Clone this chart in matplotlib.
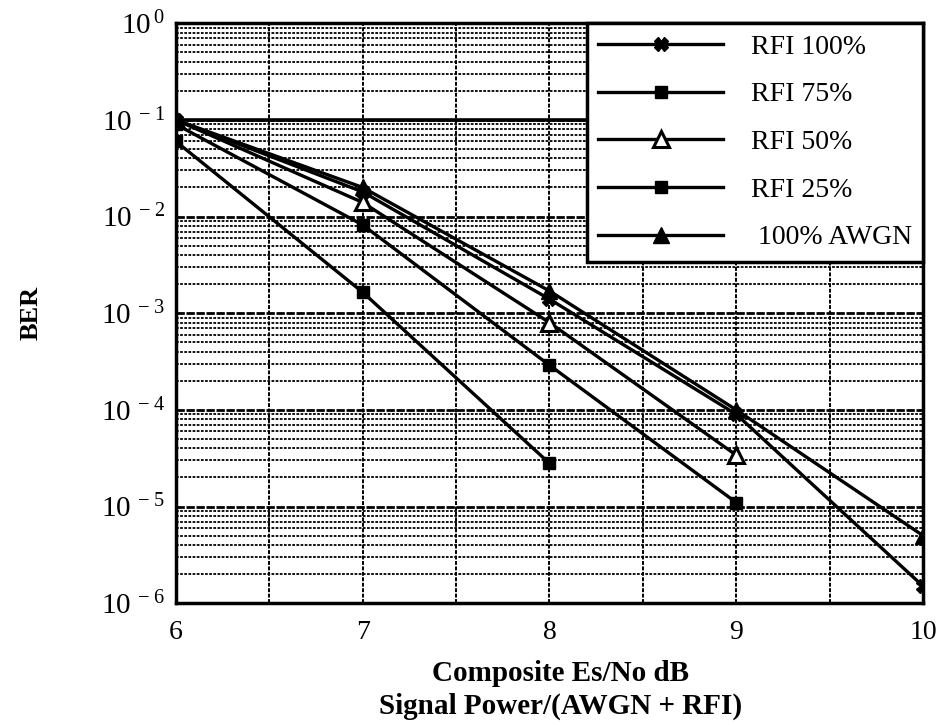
import matplotlib
matplotlib.use("Agg")
import matplotlib.pyplot as plt
from matplotlib.ticker import FixedLocator, LogLocator, NullFormatter

plt.rcParams["font.family"] = ["Liberation Serif", "DejaVu Serif"]
plt.rcParams["mathtext.fontset"] = "custom"
plt.rcParams["mathtext.rm"] = "Liberation Serif"

# Composite Es/No (dB)
esno = [6, 7, 8, 9, 10]

# BER curves
ber_rfi100 = [1.0e-1, 1.8e-2, 1.4e-3, 9.0e-5, 1.5e-6]
ber_rfi75 = [9.0e-2, 8.2e-3, 2.9e-4, 1.1e-5]
ber_rfi50 = [1.0e-1, 1.4e-2, 8.0e-4, 3.4e-5]
ber_rfi25 = [6.0e-2, 1.65e-3, 2.8e-5]
ber_awgn = [1.0e-1, 2.0e-2, 1.7e-3, 1.0e-4, 5.0e-6]

x_ticks = [6, 7, 8, 9, 10]
decades = [0, -1, -2, -3, -4, -5, -6]

fig = plt.figure(figsize=(9.4, 7.25), dpi=100)
ax = fig.add_axes([0.187, 0.168, 0.795, 0.800])

ax.set_yscale("log")
ax.set_xlim(6, 10)
ax.set_ylim(1e-6, 1)

# grid: dense minor lines inside each decade, heavier lines at each decade
ax.yaxis.set_minor_locator(LogLocator(base=10, subs=range(2, 10), numticks=20))
ax.yaxis.set_minor_formatter(NullFormatter())
ax.xaxis.set_minor_locator(FixedLocator([6.5, 7.5, 8.5, 9.5]))
ax.grid(True, which="minor", axis="y", color="black", linestyle=(0, (1.5, 0.8)), linewidth=1.3)
ax.grid(True, which="major", axis="y", color="black", linestyle=(0, (3, 0.6)), linewidth=2.0)
ax.grid(True, which="both", axis="x", color="black", linestyle=(0, (2, 0.8)), linewidth=1.4)
ax.axhline(1e-1, color="black", linewidth=2.6, zorder=1.5)

ax.plot(esno, ber_rfi100, color="black", linewidth=2.4, marker="X", markersize=10,
        label="RFI 100%", zorder=3)
ax.plot(esno[:4], ber_rfi75, color="black", linewidth=2.4, marker="s", markersize=8,
        label="RFI 75%", zorder=3)
ax.plot(esno[:4], ber_rfi50, color="black", linewidth=2.4, marker="^", markersize=11,
        markerfacecolor="white", markeredgewidth=2.2, label="RFI 50%", zorder=3)
ax.plot(esno[:3], ber_rfi25, color="black", linewidth=2.4, marker="s", markersize=8,
        label="RFI 25%", zorder=3)
ax.plot(esno, ber_awgn, color="black", linewidth=2.4, marker="^", markersize=11,
        label=" 100% AWGN", zorder=3)

ax.set_xticks(x_ticks)
ax.set_xticklabels([str(v) for v in x_ticks], fontsize=20)
ax.set_yticks([10.0 ** d for d in decades])
ax.set_yticklabels([r"$\mathregular{10^{\,%d}}$" % d for d in decades], fontsize=21)
ax.tick_params(axis="both", which="both", length=0)
ax.tick_params(axis="x", pad=12)
ax.tick_params(axis="y", pad=8)

for side in ax.spines.values():
    side.set_linewidth(2.5)
    side.set_color("black")

ax.set_ylabel("BER", fontsize=19, fontweight="bold")
ax.yaxis.set_label_coords(-0.178, 0.5, transform=ax.transAxes)
ax.set_xlabel("Composite Es/No dB\nSignal Power/(AWGN + RFI)", fontsize=21,
              fontweight="bold", linespacing=1.25)
ax.xaxis.set_label_coords(0.515, -0.098, transform=ax.transAxes)
ax.xaxis.label.set_verticalalignment("top")

leg = ax.legend(loc="upper right", fontsize=20, handlelength=4.5, handletextpad=1.0,
                labelspacing=0.8, borderaxespad=0.0, borderpad=0.4,
                fancybox=False, framealpha=1.0, edgecolor="black")
leg.get_frame().set_linewidth(2.5)

fig.savefig("out.png", dpi=100)
